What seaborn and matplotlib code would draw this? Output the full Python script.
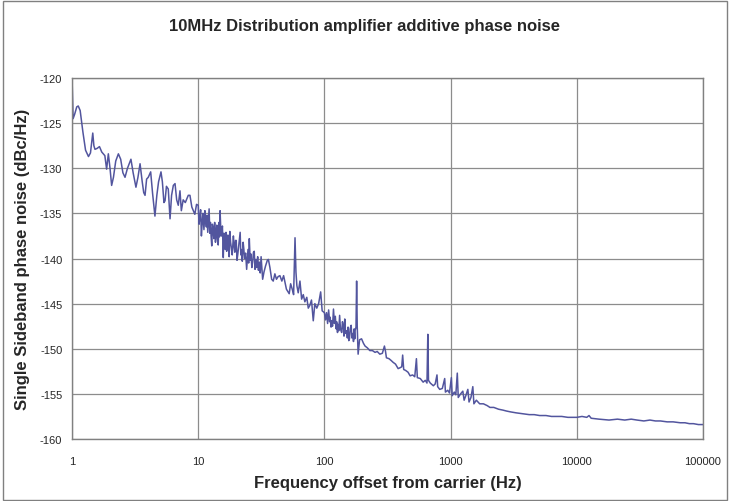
import pandas as pd
import matplotlib.pyplot as plt
import matplotlib.patches as patches
import seaborn as sns

# Dane (Hz, dBc/Hz), podzielone na odcinki
freq_1_10 = [
    1.00, 1.01, 1.02, 1.05, 1.09, 1.12, 1.16, 1.22, 1.28, 1.35,
    1.40, 1.46, 1.49, 1.52, 1.58, 1.65, 1.72, 1.77, 1.82, 1.88,
    1.94, 2.00, 2.06, 2.13, 2.22, 2.33, 2.43, 2.53, 2.63, 2.75,
    2.93, 3.05, 3.21, 3.33, 3.46, 3.60, 3.70, 3.79, 3.90, 4.02,
    4.20, 4.35, 4.54, 4.70, 4.85, 5.07, 5.20, 5.35, 5.46, 5.60,
    5.79, 5.98, 6.15, 6.35, 6.55, 6.75, 6.95, 7.17, 7.35, 7.60,
    7.90, 8.34, 8.60, 8.90, 9.40, 9.70,
]
noise_1_10 = [
    -120.0, -122.5, -124.5, -124.0, -123.2, -123.1, -123.6, -126.0, -128.0, -128.7,
    -128.3, -126.1, -127.5, -127.9, -127.8, -127.6, -128.2, -128.4, -128.6, -130.1,
    -128.4, -130.0, -131.9, -131.0, -129.2, -128.4, -129.0, -130.5, -131.0, -130.0,
    -129.0, -130.5, -132.1, -131.0, -129.5, -131.5, -132.7, -133.0, -131.2, -131.0,
    -130.4, -132.8, -135.3, -133.0, -131.5, -130.4, -131.5, -133.8, -133.6, -132.0,
    -132.3, -135.6, -133.0, -131.9, -131.7, -133.5, -134.1, -132.5, -134.7, -133.5,
    -133.8, -133.0, -133.0, -134.3, -135.1, -134.0,
]

freq_10_100 = [
    10.0, 10.15, 10.3, 10.45, 10.6, 10.75, 10.9, 11.1, 11.3, 11.45,
    11.6, 11.75, 11.9, 12.05, 12.2, 12.35, 12.5, 12.65, 12.8, 12.95,
    13.1, 13.3, 13.5, 13.7, 13.9, 14.05, 14.2, 14.4, 14.6, 14.75,
    14.9, 15.1, 15.3, 15.55, 15.8, 16.0, 16.2, 16.4, 16.6, 16.8,
    17.0, 17.2, 17.4, 17.6, 17.8, 18.05, 18.3, 18.6, 19.0, 19.25,
    19.5, 19.75, 20.0, 20.3, 20.6, 21.0, 21.5, 21.75, 22.0, 22.35,
    22.7, 23.0, 23.3, 23.75, 24.2, 24.5, 24.8, 25.1, 25.4, 25.8,
    26.2, 26.6, 27.0, 27.4, 27.8, 28.2, 28.7, 29.1, 29.6, 30.0,
    30.5, 31.0, 31.5, 32.4, 33.2, 34.2, 35.3, 36.0, 37.0, 38.2,
    39.3, 40.5, 41.7, 43.0, 44.4, 46.0, 47.5, 49.0, 50.0, 51.5,
    52.6, 54.0, 55.6, 57.0, 58.5, 59.5, 60.5, 62.0, 64.0, 66.0,
    68.0, 70.0, 72.5, 74.5, 76.6, 79.0, 81.6, 84.0, 87.0, 90.0,
    93.4, 96.0,
]
noise_10_100 = [
    -134.1, -136.2, -135.5, -134.6, -137.5, -136.0, -135.0, -136.8, -134.7, -135.8,
    -136.5, -135.2, -137.1, -135.8, -134.5, -137.2, -136.0, -137.5, -138.6, -136.2,
    -136.5, -137.8, -136.0, -138.2, -137.0, -136.3, -137.8, -138.5, -136.0, -137.6,
    -134.7, -136.8, -137.5, -136.4, -139.9, -137.2, -138.0, -139.0, -137.1, -139.2,
    -138.5, -137.4, -138.9, -139.8, -137.0, -138.2, -138.8, -139.6, -137.5, -138.6,
    -139.3, -138.0, -138.0, -140.2, -139.5, -138.4, -137.1, -139.6, -139.0, -140.3,
    -138.2, -139.0, -140.0, -139.4, -141.2, -140.0, -139.0, -140.5, -137.8, -140.2,
    -139.5, -141.0, -140.4, -139.3, -139.2, -141.2, -140.1, -141.0, -139.8, -141.3,
    -140.4, -141.6, -139.8, -142.3, -141.5, -140.8, -140.2, -140.1, -141.0, -142.3,
    -142.5, -141.7, -142.3, -142.0, -141.9, -142.5, -141.9, -142.8, -143.4, -143.7,
    -143.9, -142.8, -143.4, -144.0, -137.7, -141.5, -143.0, -143.8, -142.5, -144.5,
    -144.0, -144.8, -144.3, -145.5, -145.2, -144.6, -146.9, -145.0, -145.5, -145.0,
    -143.7, -145.8,
]

freq_100_1k = [
    100, 102, 104, 106, 108, 110, 111, 113, 114, 116,
    118, 120, 122, 124, 125, 127, 128, 130, 132, 134,
    137, 139, 141, 143, 145, 147, 150, 152, 154, 156,
    158, 160, 163, 165, 168, 170, 172, 174, 175, 178,
    180, 182, 185, 190, 197, 204, 210, 219, 229, 240,
    252, 262, 275, 288, 299, 305, 310, 325, 338, 350,
    366, 384, 398, 410, 417, 425, 440, 460, 478, 500,
    520, 536, 545, 575, 606, 630, 650, 660, 668, 690,
    715, 730, 755, 780, 790, 820, 860, 898, 910, 950,
    980,
]
noise_100_1k = [
    -146.0, -146.8, -146.0, -147.2, -145.7, -147.0, -146.5, -147.6, -146.9, -147.5,
    -145.6, -147.2, -146.4, -147.8, -147.0, -148.2, -147.3, -148.0, -146.3, -147.8,
    -148.2, -147.0, -147.4, -148.6, -146.7, -148.3, -148.0, -148.8, -147.6, -149.1,
    -148.9, -147.8, -147.4, -148.8, -148.3, -149.2, -147.8, -148.9, -148.0, -147.6,
    -142.5, -147.5, -150.6, -149.0, -148.9, -149.4, -149.7, -149.9, -150.2, -150.2,
    -150.4, -150.3, -150.6, -150.5, -149.7, -150.3, -151.0, -151.1, -151.3, -151.5,
    -151.7, -152.2, -152.1, -152.0, -150.7, -152.3, -152.4, -152.6, -153.0, -152.9,
    -153.1, -151.1, -153.2, -153.3, -153.7, -153.5, -153.8, -148.4, -153.5, -153.8,
    -154.0, -154.1, -153.9, -152.9, -154.2, -154.5, -154.4, -153.3, -154.8, -154.6,
    -154.9,
]

freq_1k_100k = [
    1014, 1030, 1070, 1100, 1130, 1150, 1200, 1250, 1280, 1320,
    1370, 1400, 1450, 1500, 1530, 1600, 1700, 1820, 1950, 2050,
    2200, 2400, 2600, 2770, 3000, 3300, 3750, 4200, 4600, 5080,
    5700, 6300, 6880, 7600, 8500, 10000, 11000, 12000, 12500, 13000,
    15000, 18000, 21000, 24000, 27000, 30000, 34000, 38000, 42000, 46000,
    52000, 58000, 66000, 72000, 78000, 84000, 92000, 100000,
]
noise_1k_100k = [
    -153.2, -155.2, -154.8, -155.1, -152.7, -155.4, -155.0, -154.7, -155.7, -155.2,
    -154.5, -155.9, -155.4, -154.2, -156.1, -155.7, -156.1, -156.1, -156.3, -156.5,
    -156.5, -156.7, -156.8, -156.9, -157.0, -157.1, -157.2, -157.3, -157.3, -157.4,
    -157.4, -157.5, -157.5, -157.5, -157.6, -157.6, -157.5, -157.6, -157.4, -157.7,
    -157.8, -157.9, -157.8, -157.9, -157.8, -157.9, -158.0, -157.9, -158.0, -158.0,
    -158.1, -158.1, -158.2, -158.2, -158.3, -158.3, -158.4, -158.4,
]

x_ticks = [1, 10, 100, 1000, 10000, 100000]
x_tick_labels = ['1', '10', '100', '1000', '10000', '100000']
y_ticks = [-160, -155, -150, -145, -140, -135, -130, -125, -120]

df = pd.DataFrame({
    'freq': freq_1_10 + freq_10_100 + freq_100_1k + freq_1k_100k,
    'noise': noise_1_10 + noise_10_100 + noise_100_1k + noise_1k_100k,
})

sns.set_style('white')
plt.rcParams['font.family'] = ['Liberation Sans', 'DejaVu Sans']
plt.rcParams['axes.unicode_minus'] = False

fig = plt.figure(figsize=(7.29, 5.02), dpi=100)
ax = fig.add_axes([0.0988, 0.1235, 0.8655, 0.7191])

sns.lineplot(data=df, x='freq', y='noise', ax=ax, color='#52559E',
             linewidth=1.1, estimator=None, sort=False)

ax.set_xscale('log')
ax.set_xlim(1, 100000)
ax.set_ylim(-160, -120)
ax.set_xticks(x_ticks)
ax.set_xticklabels(x_tick_labels)
ax.minorticks_off()
ax.set_yticks(y_ticks)
ax.tick_params(axis='both', labelsize=8, length=4, width=0.8,
               color='#808080', direction='out', pad=8)
ax.tick_params(axis='y', pad=3)
ax.grid(True, color='#8c8c8c', linewidth=0.9)
for s in ax.spines.values():
    s.set_color('#808080')
    s.set_linewidth(1.0)

ax.set_xlabel('Frequency offset from carrier (Hz)', fontsize=12,
              fontweight='bold', labelpad=7)
ax.set_ylabel('Single Sideband phase noise (dBc/Hz)', fontsize=12,
              fontweight='bold', labelpad=7)
fig.text(0.5, 0.948, '10MHz Distribution amplifier additive phase noise',
         ha='center', va='center', fontsize=12, fontweight='bold')

# ramka wokół całego wykresu
fig.patches.append(patches.Rectangle((0.004, 0.002), 0.993, 0.994,
                                     transform=fig.transFigure, fill=False,
                                     edgecolor='#808080', linewidth=1.0))

fig.savefig('out.png', dpi=100)
